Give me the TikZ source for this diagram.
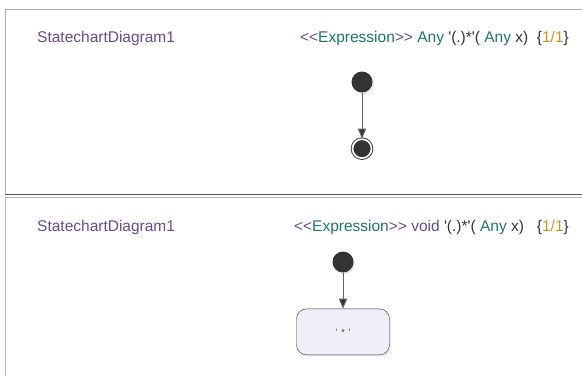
\documentclass[tikz,border=0pt]{standalone}
\usepackage{fontspec}
\setmainfont{Liberation Sans}[Ligatures=TeXOff]
\usetikzlibrary{arrows.meta, positioning, shadows}

\definecolor{umlpurple}{HTML}{6A4A8C}
\definecolor{umlteal}{HTML}{1D7471}
\definecolor{umlorange}{HTML}{D4901C}
\definecolor{umlink}{HTML}{333333}
\definecolor{umlfill}{HTML}{F0EEF6}

\begin{document}
\begin{tikzpicture}[x=1bp, y=-1bp,
  title/.style={anchor=west, inner sep=0pt, text=umlpurple, font=\fontsize{15.5bp}{18bp}\selectfont},
  header/.style={anchor=east, inner sep=0pt, text=umlink, font=\fontsize{15.5bp}{18bp}\selectfont},
  start/.style={circle, fill=umlink, minimum size=21bp, inner sep=0pt, drop shadow={shadow xshift=1.5bp, shadow yshift=-1.5bp, fill=gray!35}},
  final/.style={circle, fill=umlink, draw=umlink, line width=0.9bp, double=white, double distance=1.7bp, minimum size=19bp, inner sep=0pt, drop shadow={shadow xshift=1.5bp, shadow yshift=-1.5bp, fill=gray!35}},
  state/.style={draw=umlink, fill=umlfill, rounded corners=10bp, minimum width=93bp, minimum height=46bp, text=umlink, font=\fontsize{9bp}{11bp}\selectfont, drop shadow={shadow xshift=1.5bp, shadow yshift=-1.5bp, fill=gray!35}},
  trans/.style={draw=gray!75!black, line width=0.9bp, -{Triangle[length=10bp, width=8bp, fill=umlink]}},
  node distance=46bp
]
\useasboundingbox (0,0) rectangle (582,379);

% frames
\draw[gray!65] (5,194) -- (5,9) -- (582,9);
\draw[umlink!85, line width=1.3bp] (5,194.5) -- (582,194.5);
\draw[gray!55] (5,376) -- (5,197) -- (582,197);

% upper diagram
\node[title] (diagA) at (37,38) {StatechartDiagram1};
\node[header] (exprA) at (569,38) {\textcolor{umlpurple}{<<}\textcolor{umlteal}{Expression}\textcolor{umlpurple}{>>} \textcolor{umlteal}{Any} '(.)*'( \textcolor{umlteal}{Any} x)\ \ \{\textcolor{umlorange}{1/1}\}};
\node[start] (initA) at (362,82) {};
\node[final, below=of initA] (endA) {};
\draw[trans] (initA) -- (endA);

% lower diagram
\node[title] (diagB) at (37,227) {StatechartDiagram1};
\node[header] (exprB) at (569,227) {\textcolor{umlpurple}{<<}\textcolor{umlteal}{Expression}\textcolor{umlpurple}{>>} \textcolor{umlpurple}{void} '(.)*'( \textcolor{umlteal}{Any} x)\ \ \ \{\textcolor{umlorange}{1/1}\}};
\node[start] (initB) at (343,262) {};
\node[state, below=36bp of initB] (anyB) {'\,\ *\ \,'};
\draw[trans] (initB) -- (anyB);
\end{tikzpicture}
\end{document}
